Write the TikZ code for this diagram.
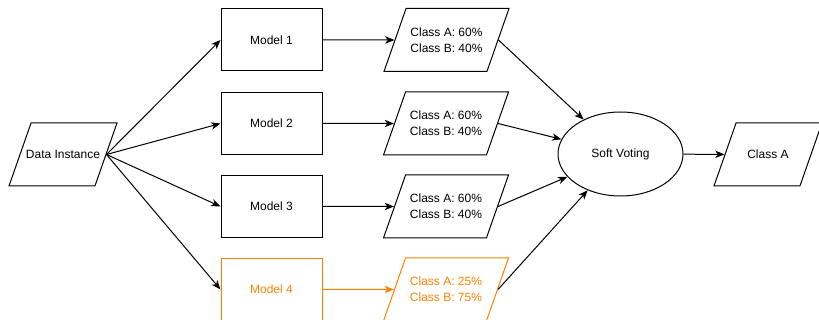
\documentclass[tikz,border=0pt]{standalone}
\usepackage{fontspec}
\setmainfont{Liberation Sans}
\usetikzlibrary{shapes.geometric,arrows.meta}
\definecolor{drawio_orange}{HTML}{FF8000}
\begin{document}
\begin{tikzpicture}[x=0.75pt,y=-0.75pt]
        \tikzstyle{base_style} = [draw, line width=0.75pt, font=\fontsize{9}{12}\selectfont, align=center, inner sep=0pt]
        \tikzstyle{data_style} = [base_style, trapezium, trapezium left angle=70.7, trapezium right angle=109.3, trapezium stretches body, inner xsep=-5pt, text height=26.6pt, text depth=20.65pt]
        \tikzstyle{model_style} = [base_style, rectangle, minimum width=75.75pt, minimum height=46.5pt]
        \tikzstyle{vote_style} = [base_style, ellipse, minimum width=93.75pt, minimum height=63pt]
        \tikzstyle{arrow_style1} = [-{Stealth[length=7pt,width=5.5pt,inset=2pt]}, black, line width=0.75pt]
        \tikzstyle{odd_style} = [draw=drawio_orange, text=drawio_orange]

        \useasboundingbox (0,0) rectangle (819,320);

        % input on the left
        \node[data_style, minimum width=81pt] (data) at (63,154.5) {Data Instance};

        % the four models
        \node[model_style] (m1) at (271.5,40) {Model 1};
        \node[model_style] (m2) at (271.5,123.5) {Model 2};
        \node[model_style] (m3) at (271.5,206.5) {Model 3};
        \node[model_style, odd_style] (m4) at (271.5,289.5) {Model 4};

        % their class probabilities
        \node[data_style, minimum width=93.75pt] (p1) at (446.5,40) {\begin{tabular}{@{}c@{}}Class A: 60\%\\Class B: 40\%\end{tabular}};
        \node[data_style, minimum width=93.75pt] (p2) at (446,123.5) {\begin{tabular}{@{}c@{}}Class A: 60\%\\Class B: 40\%\end{tabular}};
        \node[data_style, minimum width=93.75pt] (p3) at (446,206.5) {\begin{tabular}{@{}c@{}}Class A: 60\%\\Class B: 40\%\end{tabular}};
        \node[data_style, minimum width=93.75pt, odd_style] (p4) at (446,289.5) {\begin{tabular}{@{}c@{}}Class A: 25\%\\Class B: 75\%\end{tabular}};

        % voting and result
        \node[vote_style] (vote) at (620.5,154) {Soft Voting};
        \node[data_style, minimum width=81pt] (result) at (768,154.5) {Class A};

        \draw[arrow_style1] (data.east) -- (m1.west);
        \draw[arrow_style1] (data.east) -- (m2.west);
        \draw[arrow_style1] (data.east) -- (m3.west);
        \draw[arrow_style1] (data.east) -- (m4.west);

        \draw[arrow_style1] (m1) -- (p1);
        \draw[arrow_style1] (m2) -- (p2);
        \draw[arrow_style1] (m3) -- (p3);
        \draw[arrow_style1, drawio_orange] (m4) -- (p4);

        \draw[arrow_style1] (p1.east) -- (vote);
        \draw[arrow_style1] (p2.east) -- (vote);
        \draw[arrow_style1] (p3.east) -- (vote);
        \draw[arrow_style1] (p4.east) -- (vote);

        \draw[arrow_style1] (vote) -- (result);
    \end{tikzpicture}
\end{document}
